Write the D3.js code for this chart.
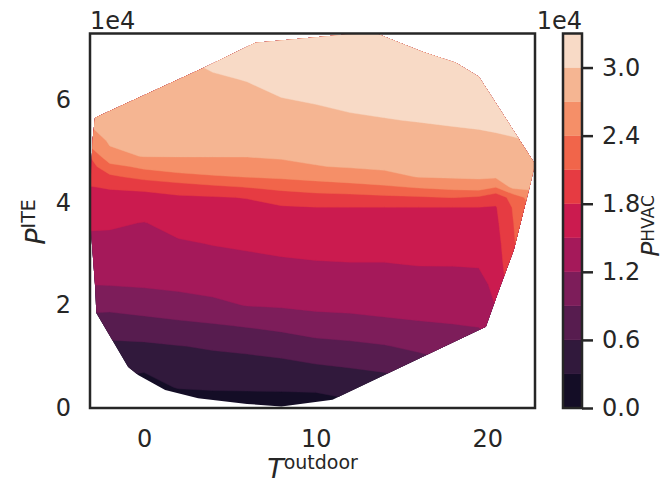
<!DOCTYPE html>
<html>
<head>
<meta charset="utf-8">
<script src="https://cdn.jsdelivr.net/npm/d3@7"></script>
<style>
  body { margin: 0; background: #ffffff; }
  text { font-family: "DejaVu Sans", sans-serif; fill: #262626; }
</style>
</head>
<body>
<svg id="chart" width="665" height="483"></svg>
<script>
// Contour levels of P_HVAC (in units of 1e4 W)
const levels = [0.0, 0.3, 0.6, 0.9, 1.2, 1.5, 1.8, 2.1, 2.4, 2.7, 3.0];
const levelTop = 3.3;
const xTicks = [0, 10, 20];
const yTicks = [0, 2, 4, 6];
const cbarTicks = [0.0, 0.6, 1.2, 1.8, 2.4, 3.0];

// Sample grid: outdoor temperature (°C) and IT power (1e4 W)
const tempGrid = [-3.2, -2, 0, 2, 4, 6, 8, 10, 12, 14, 16, 18, 19.5, 20.5, 21.5, 22.8];
const iteGrid = [0, 0.4, 0.8, 1.2, 1.6, 2.0, 2.4, 2.8, 3.2, 3.6, 3.9, 4.1, 4.3, 4.5, 4.7, 4.9, 5.2, 5.6, 6.0, 6.4, 6.8, 7.4];

// HVAC power (1e4 W) sampled along iteGrid, one list per temperature in tempGrid
const hvacByTemp = [
  [0.05, 0.24, 0.41, 0.56, 0.76, 0.98, 1.20, 1.31, 1.42, 1.55, 1.66, 1.73, 1.79, 1.89, 1.98, 2.08, 2.55, 2.74, 2.78, 2.83, 2.88, 2.95],
  [0.05, 0.22, 0.39, 0.54, 0.74, 0.98, 1.21, 1.32, 1.42, 1.54, 1.65, 1.73, 1.82, 2.04, 2.30, 2.64, 2.73, 2.77, 2.82, 2.86, 2.91, 2.98],
  [0.05, 0.17, 0.35, 0.55, 0.78, 1.03, 1.23, 1.32, 1.41, 1.49, 1.63, 1.72, 1.86, 2.20, 2.47, 2.71, 2.74, 2.79, 2.84, 2.89, 2.94, 3.01],
  [0.02, 0.32, 0.46, 0.59, 0.83, 1.08, 1.26, 1.36, 1.47, 1.59, 1.69, 1.76, 1.95, 2.31, 2.54, 2.71, 2.75, 2.80, 2.86, 2.92, 2.98, 3.06],
  [0.02, 0.35, 0.48, 0.63, 0.87, 1.14, 1.29, 1.40, 1.51, 1.63, 1.72, 1.78, 2.04, 2.37, 2.56, 2.71, 2.76, 2.84, 2.91, 2.97, 3.06, 3.20],
  [0.02, 0.36, 0.50, 0.66, 0.92, 1.21, 1.32, 1.43, 1.54, 1.66, 1.74, 1.81, 2.11, 2.41, 2.57, 2.71, 2.78, 2.87, 2.93, 3.01, 3.12, 3.25],
  [0.02, 0.37, 0.52, 0.71, 0.98, 1.23, 1.35, 1.46, 1.57, 1.69, 1.77, 1.93, 2.19, 2.45, 2.63, 2.73, 2.81, 2.91, 2.99, 3.08, 3.16, 3.27],
  [0.02, 0.39, 0.57, 0.79, 1.06, 1.26, 1.37, 1.48, 1.59, 1.71, 1.79, 1.99, 2.25, 2.50, 2.69, 2.75, 2.83, 2.93, 3.02, 3.11, 3.18, 3.28],
  [0.20, 0.43, 0.61, 0.83, 1.09, 1.27, 1.38, 1.49, 1.60, 1.71, 1.79, 2.01, 2.29, 2.56, 2.72, 2.78, 2.86, 2.97, 3.05, 3.13, 3.21, 3.29],
  [0.36, 0.49, 0.64, 0.88, 1.14, 1.28, 1.39, 1.49, 1.60, 1.72, 1.79, 2.04, 2.35, 2.63, 2.74, 2.80, 2.88, 2.99, 3.07, 3.15, 3.22, 3.30],
  [0.44, 0.55, 0.73, 0.97, 1.17, 1.29, 1.40, 1.51, 1.61, 1.72, 1.79, 2.07, 2.43, 2.71, 2.76, 2.81, 2.90, 3.01, 3.09, 3.16, 3.24, 3.30],
  [0.52, 0.65, 0.85, 1.03, 1.19, 1.30, 1.41, 1.51, 1.62, 1.72, 1.79, 2.11, 2.50, 2.73, 2.79, 2.85, 2.93, 3.03, 3.11, 3.19, 3.26, 3.30],
  [0.60, 0.77, 0.93, 1.07, 1.21, 1.31, 1.41, 1.52, 1.62, 1.71, 1.79, 2.06, 2.55, 2.74, 2.80, 2.86, 2.95, 3.04, 3.12, 3.20, 3.28, 3.30],
  [0.70, 0.93, 1.07, 1.19, 1.37, 1.51, 1.57, 1.63, 1.68, 1.74, 1.78, 1.90, 2.41, 2.74, 2.80, 2.87, 2.96, 3.06, 3.14, 3.22, 3.29, 3.30],
  [1.00, 1.10, 1.20, 1.35, 1.60, 1.85, 1.98, 2.04, 2.07, 2.09, 2.12, 2.22, 2.78, 2.82, 2.86, 2.90, 2.98, 3.08, 3.16, 3.24, 3.29, 3.30],
  [1.30, 1.40, 1.50, 1.60, 1.80, 2.00, 2.20, 2.30, 2.38, 2.45, 2.50, 2.58, 2.76, 2.84, 2.90, 2.94, 3.01, 3.10, 3.18, 3.26, 3.29, 3.30]
];

// Outline of the measured region (temperature, IT power)
const hullT = [-2.86, 3.45, 6.48, 11.74, 13.55, 16.18, 18.17, 19.51, 22.78, 22.43, 21.55, 20.62, 19.92, 10.98, 8.0, 6.0, 3.15, 1.23, -0.35, -0.93, -2.78, -2.86, -3.10, -3.13, -3.0];
const hullP = [5.65, 6.62, 7.11, 7.27, 7.29, 6.94, 6.72, 6.45, 4.75, 4.25, 3.08, 2.24, 1.58, 0.16, 0.03, 0.08, 0.19, 0.35, 0.64, 0.80, 1.85, 2.40, 3.47, 4.25, 5.22];

// "rocket" palette, one colour per filled band
const bandColors = ["#140d26", "#31193c", "#571c4f", "#7d1d5a", "#a5195a", "#cb1b4f",
                    "#e63b42", "#f1654a", "#f58f68", "#f5b592", "#f8dac6"];

const svg = d3.select("#chart");
const frame = { left: 90, right: 535, top: 33.5, bottom: 408 };
const cbar = { left: 563, right: 582 };

const x = d3.scaleLinear().domain([-3.15, 22.78]).range([frame.left, frame.right]);
const y = d3.scaleLinear().domain([0, 7.29]).range([frame.bottom, frame.top]);
const c = d3.scaleLinear().domain([0, levelTop]).range([frame.bottom, frame.top]);

// grid index -> data coordinates (grid cells may be unevenly spaced)
const nCols = tempGrid.length, nRows = iteGrid.length;
const colToTemp = d3.scaleLinear().domain(d3.range(nCols)).range(tempGrid);
const rowToIte = d3.scaleLinear().domain(d3.range(nRows)).range(iteGrid);

const values = new Array(nCols * nRows);
for (let r = 0; r < nRows; r++)
  for (let k = 0; k < nCols; k++)
    values[r * nCols + k] = hvacByTemp[k][r];

const bands = d3.contours().size([nCols, nRows]).thresholds(levels)(values);

const gridPath = d3.geoPath(d3.geoTransform({
  point: function (gx, gy) {
    this.stream.point(x(colToTemp(gx - 0.5)), y(rowToIte(gy - 0.5)));
  }
}));

// clip the filled contours to the region covered by measurements
const hullPts = hullT.map((t, i) => [x(t), y(hullP[i])]);
svg.append("defs").append("clipPath").attr("id", "hull")
  .append("path").attr("d", d3.line()(hullPts) + "Z");

svg.append("g").attr("clip-path", "url(#hull)")
  .selectAll("path").data(bands).join("path")
  .attr("d", gridPath)
  .attr("fill", (d, i) => bandColors[i])
  .attr("stroke", (d, i) => bandColors[i])
  .attr("stroke-width", 0.4);

// axes
const xAxis = svg.append("g").attr("transform", `translate(0,${frame.bottom})`)
  .call(d3.axisBottom(x).tickValues(xTicks).tickSize(0).tickPadding(22).tickFormat(d3.format("d")));
const yAxis = svg.append("g").attr("transform", `translate(${frame.left},0)`)
  .call(d3.axisLeft(y).tickValues(yTicks).tickSize(0).tickPadding(19).tickFormat(d3.format("d")));
[xAxis, yAxis].forEach(g => {
  g.select(".domain").remove();
  g.selectAll("text").style("font-size", "24px").attr("fill", "#262626");
});

svg.append("rect")
  .attr("x", frame.left).attr("y", frame.top)
  .attr("width", frame.right - frame.left).attr("height", frame.bottom - frame.top)
  .attr("fill", "none").attr("stroke", "#262626").attr("stroke-width", 2.5);

svg.append("text").attr("x", frame.left).attr("y", 29)
  .style("font-size", "24px").text("1e4");

// axis titles with superscripts
const xTitle = svg.append("text").attr("x", (frame.left + frame.right) / 2).attr("y", 478)
  .attr("text-anchor", "middle");
xTitle.append("tspan").style("font-size", "27px").style("font-style", "italic").text("T");
xTitle.append("tspan").style("font-size", "19px").attr("dy", -9).text("outdoor");

const yTitle = svg.append("text").attr("transform", "translate(45,222) rotate(-90)")
  .attr("text-anchor", "middle");
yTitle.append("tspan").style("font-size", "27px").style("font-style", "italic").text("P");
yTitle.append("tspan").style("font-size", "19px").attr("dy", -10).text("ITE");

// colour bar
const cbarEdges = levels.concat([levelTop]);
svg.append("g").selectAll("rect").data(levels).join("rect")
  .attr("x", cbar.left).attr("width", cbar.right - cbar.left)
  .attr("y", (d, i) => c(cbarEdges[i + 1]))
  .attr("height", (d, i) => c(cbarEdges[i]) - c(cbarEdges[i + 1]))
  .attr("fill", (d, i) => bandColors[i])
  .attr("stroke", (d, i) => bandColors[i]).attr("stroke-width", 0.3);

svg.append("rect")
  .attr("x", cbar.left).attr("y", frame.top)
  .attr("width", cbar.right - cbar.left).attr("height", frame.bottom - frame.top)
  .attr("fill", "none").attr("stroke", "#262626").attr("stroke-width", 2.5);

const cAxis = svg.append("g").attr("transform", `translate(${cbar.right},0)`)
  .call(d3.axisRight(c).tickValues(cbarTicks).tickSize(11).tickPadding(9).tickFormat(d3.format(".1f")));
cAxis.select(".domain").remove();
cAxis.selectAll("line").attr("stroke", "#262626").attr("stroke-width", 2.5);
cAxis.selectAll("text").style("font-size", "24px").attr("fill", "#262626");

svg.append("text").attr("x", cbar.right).attr("y", 29).attr("text-anchor", "end")
  .style("font-size", "24px").text("1e4");

const cTitle = svg.append("text").attr("transform", "translate(659,226) rotate(-90)")
  .attr("text-anchor", "middle");
cTitle.append("tspan").style("font-size", "25px").style("font-style", "italic").text("P");
cTitle.append("tspan").style("font-size", "17px").attr("dy", -5).text("HVAC");
</script>
</body>
</html>
